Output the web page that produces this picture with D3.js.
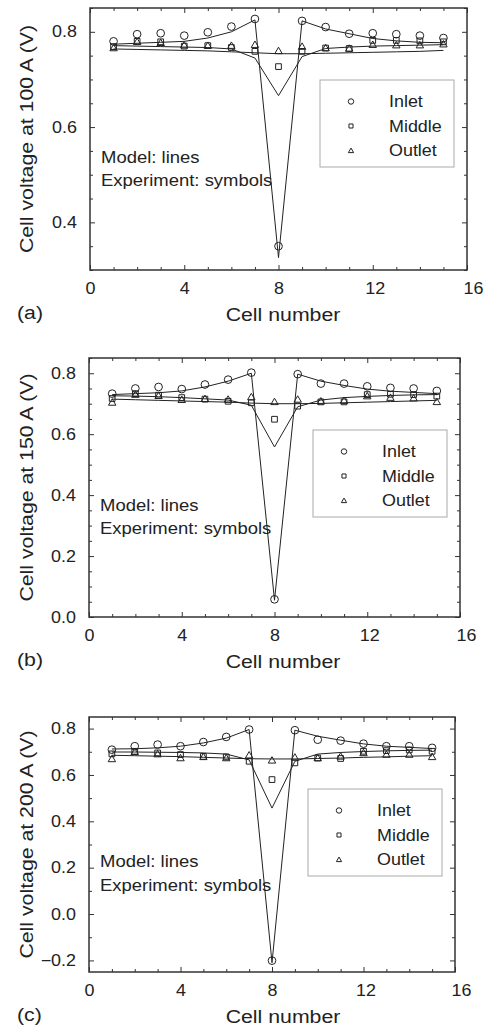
<!DOCTYPE html>
<html>
<head>
<meta charset="utf-8">
<script src="https://cdn.jsdelivr.net/npm/d3@7"></script>
<style>
  body { margin: 0; background: #fff; }
  text { font-family: "Liberation Sans", Arial, Helvetica, sans-serif; fill: #222; }
</style>
</head>
<body>
<div id="chart"></div>
<script>
// cell numbers along the stack
var cells = [1, 2, 3, 4, 5, 6, 7, 8, 9, 10, 11, 12, 13, 14, 15];

// (a) 100 A
var inletExpA    = [0.780, 0.795, 0.797, 0.792, 0.799, 0.811, 0.827, 0.350, 0.823, 0.810, 0.796, 0.797, 0.795, 0.792, 0.787];
var middleExpA   = [0.769, 0.780, 0.779, 0.770, 0.771, 0.767, 0.759, 0.727, 0.759, 0.766, 0.765, 0.782, 0.782, 0.781, 0.779];
var outletExpA   = [0.766, 0.779, 0.777, 0.772, 0.771, 0.771, 0.773, 0.760, 0.769, 0.766, 0.765, 0.773, 0.772, 0.772, 0.774];
var inletModelA  = [0.774, 0.776, 0.778, 0.780, 0.787, 0.800, 0.825, 0.326, 0.823, 0.806, 0.796, 0.786, 0.781, 0.778, 0.777];
var middleModelA = [0.771, 0.770, 0.769, 0.768, 0.767, 0.764, 0.745, 0.666, 0.748, 0.765, 0.768, 0.770, 0.771, 0.772, 0.773];
var outletModelA = [0.764, 0.763, 0.762, 0.761, 0.760, 0.758, 0.756, 0.754, 0.754, 0.755, 0.756, 0.757, 0.758, 0.759, 0.761];

// (b) 150 A
var inletExpB    = [0.733, 0.750, 0.755, 0.748, 0.763, 0.779, 0.802, 0.058, 0.797, 0.766, 0.766, 0.757, 0.752, 0.750, 0.742];
var middleExpB   = [0.717, 0.733, 0.728, 0.720, 0.715, 0.708, 0.703, 0.649, 0.692, 0.706, 0.706, 0.730, 0.731, 0.730, 0.725];
var outletExpB   = [0.704, 0.730, 0.726, 0.713, 0.716, 0.714, 0.722, 0.706, 0.714, 0.708, 0.710, 0.725, 0.720, 0.718, 0.706];
var inletModelB  = [0.730, 0.733, 0.736, 0.742, 0.755, 0.774, 0.800, 0.055, 0.797, 0.774, 0.760, 0.748, 0.741, 0.737, 0.733];
var middleModelB = [0.726, 0.725, 0.723, 0.720, 0.716, 0.712, 0.695, 0.558, 0.690, 0.712, 0.720, 0.724, 0.727, 0.729, 0.730];
var outletModelB = [0.715, 0.713, 0.711, 0.709, 0.707, 0.705, 0.702, 0.700, 0.700, 0.701, 0.703, 0.705, 0.707, 0.709, 0.711];

// (c) 200 A
var inletExpC    = [0.709, 0.724, 0.731, 0.724, 0.742, 0.764, 0.796, -0.201, 0.793, 0.752, 0.748, 0.735, 0.724, 0.724, 0.717];
var middleExpC   = [0.691, 0.702, 0.695, 0.688, 0.680, 0.678, 0.659, 0.580, 0.652, 0.673, 0.671, 0.702, 0.705, 0.708, 0.702];
var outletExpC   = [0.669, 0.700, 0.690, 0.673, 0.678, 0.673, 0.685, 0.663, 0.676, 0.673, 0.680, 0.695, 0.688, 0.688, 0.678];
var inletModelC  = [0.712, 0.713, 0.717, 0.724, 0.738, 0.759, 0.796, -0.210, 0.793, 0.767, 0.750, 0.734, 0.724, 0.719, 0.714];
var middleModelC = [0.699, 0.699, 0.698, 0.697, 0.695, 0.690, 0.665, 0.457, 0.659, 0.690, 0.697, 0.701, 0.704, 0.706, 0.707];
var outletModelC = [0.685, 0.683, 0.681, 0.679, 0.676, 0.673, 0.670, 0.669, 0.669, 0.671, 0.673, 0.676, 0.678, 0.681, 0.683];

var xTickLabels = [0, 4, 8, 12, 16];
var seriesNames = ["Inlet", "Middle", "Outlet"];

// panel layout
var panels = [
  { tag: "(a)", current: "100", left: 90, right: 467, top: 8, bottom: 270,
    yDomain: [0.3, 0.85], yLabels: [0.4, 0.6, 0.8], yMinor: 0.05,
    exp: [inletExpA, middleExpA, outletExpA], model: [inletModelA, middleModelA, outletModelA] },
  { tag: "(b)", current: "150", left: 89, right: 460, top: 358, bottom: 617,
    yDomain: [0, 0.85], yLabels: [0, 0.2, 0.4, 0.6, 0.8], yMinor: 0.05,
    exp: [inletExpB, middleExpB, outletExpB], model: [inletModelB, middleModelB, outletModelB] },
  { tag: "(c)", current: "200", left: 89, right: 455, top: 717, bottom: 972,
    yDomain: [-0.25, 0.85], yLabels: [-0.2, 0, 0.2, 0.4, 0.6, 0.8], yMinor: 0.1,
    exp: [inletExpC, middleExpC, outletExpC], model: [inletModelC, middleModelC, outletModelC] }
];

var SX = 1.12; // glyphs in the original are a bit wider than Arial

var svg = d3.select("#chart")
  .append("svg")
  .attr("width", 488)
  .attr("height", 1028);

function label(g, x, y, str, size, anchor, rot) {
  return g.append("text")
    .attr("transform", "translate(" + x + "," + y + ")" + (rot ? " rotate(" + rot + ")" : "") + " scale(" + SX + ",1)")
    .attr("text-anchor", anchor || "start")
    .style("font-size", size + "px")
    .text(str);
}

// widen axis labels without moving their anchor point
function stretchText(sel, nudge) {
  sel.selectAll(".tick").each(function(d) {
    var t = d3.select(this).select("text");
    var x = (+t.attr("x") || 0) + (nudge ? nudge(d) : 0);
    t.attr("x", 0).attr("transform", "translate(" + x + ",0) scale(" + SX + ",1)");
  });
}

function steps(lo, hi, step) {
  var a = Math.ceil(lo / step - 1e-6), b = Math.floor(hi / step + 1e-6);
  return d3.range(a, b + 1).map(i => +(i * step).toFixed(4));
}

// draw one marker shape
function marker(g, kind, x, y, s) {
  if (kind === 0) {
    g.append("circle").attr("cx", x).attr("cy", y).attr("r", s * 0.62)
      .attr("fill", "none").attr("stroke", "#222").attr("stroke-width", 1);
  } else {
    var sym = kind === 1 ? d3.symbolSquare : d3.symbolTriangle;
    var area = kind === 1 ? s * s * 0.85 : s * s * 0.62;
    g.append("path")
      .attr("transform", "translate(" + x + "," + (kind === 2 ? y + 0.6 : y) + ")")
      .attr("d", d3.symbol().type(sym).size(area)())
      .attr("fill", "none").attr("stroke", "#222").attr("stroke-width", 1);
  }
}

panels.forEach(function(p) {
  var g = svg.append("g");
  var w = p.right - p.left, h = p.bottom - p.top;

  var x = d3.scaleLinear().domain([0, 16]).range([p.left, p.right]);
  var y = d3.scaleLinear().domain(p.yDomain).range([p.bottom, p.top]);

  var xMinor = d3.range(0, 17).filter(d => d % 4 !== 0);
  var yMinor = steps(p.yDomain[0], p.yDomain[1], p.yMinor).filter(v => p.yLabels.every(l => Math.abs(l - v) > 1e-6));

  // bottom axis with labels
  var bx = g.append("g").attr("transform", "translate(0," + p.bottom + ")")
    .call(d3.axisBottom(x).tickValues(xTickLabels).tickSize(-5).tickPadding(13).tickFormat(d3.format("d")));
  g.append("g").attr("transform", "translate(0," + p.bottom + ")")
    .call(d3.axisBottom(x).tickValues(xMinor).tickSize(-3).tickFormat(""));
  // top axis ticks
  g.append("g").attr("transform", "translate(0," + p.top + ")")
    .call(d3.axisTop(x).tickValues(xTickLabels).tickSize(-5).tickFormat(""));
  g.append("g").attr("transform", "translate(0," + p.top + ")")
    .call(d3.axisTop(x).tickValues(xMinor).tickSize(-3).tickFormat(""));

  // left axis with labels
  var ly = g.append("g").attr("transform", "translate(" + p.left + ",0)")
    .call(d3.axisLeft(y).tickValues(p.yLabels).tickSize(-5).tickPadding(13).tickFormat(d3.format(".1f")));
  g.append("g").attr("transform", "translate(" + p.left + ",0)")
    .call(d3.axisLeft(y).tickValues(yMinor).tickSize(-3).tickFormat(""));
  // right axis ticks
  g.append("g").attr("transform", "translate(" + p.right + ",0)")
    .call(d3.axisRight(y).tickValues(p.yLabels).tickSize(-5).tickFormat(""));
  g.append("g").attr("transform", "translate(" + p.right + ",0)")
    .call(d3.axisRight(y).tickValues(yMinor).tickSize(-3).tickFormat(""));

  g.selectAll(".domain").remove();
  g.selectAll(".tick line").attr("stroke", "#333").attr("stroke-width", 1);
  g.selectAll(".tick text").style("font-size", "16px").attr("fill", "#222")
    .style("font-family", "'Liberation Sans', Arial, sans-serif");
  stretchText(bx, d => d === 16 ? 6 : (d === 12 ? 2 : 0));
  stretchText(ly);

  // frame
  g.append("rect")
    .attr("x", p.left).attr("y", p.top).attr("width", w).attr("height", h)
    .attr("fill", "none").attr("stroke", "#333").attr("stroke-width", 1.5);

  // model lines
  var line = d3.line().x((d, i) => x(cells[i])).y(d => y(d));
  p.model.forEach(function(vals) {
    g.append("path").datum(vals)
      .attr("d", line)
      .attr("fill", "none").attr("stroke", "#222").attr("stroke-width", 1);
  });

  // experiment symbols
  p.exp.forEach(function(vals, k) {
    vals.forEach(function(v, i) { marker(g, k, x(cells[i]), y(v), 6.2); });
  });

  // legend
  var lx = p.right - 13 - 134, lyTop = p.top + 72;
  g.append("rect")
    .attr("x", lx).attr("y", lyTop).attr("width", 134).attr("height", 87)
    .attr("fill", "#fff").attr("stroke", "#aaa").attr("stroke-width", 1);
  seriesNames.forEach(function(name, k) {
    var base = lyTop + 27 + k * 24.5;
    marker(g, k, lx + 31, base - 5.5, 4.4);
    label(g, lx + 69, base, name, 16, "start");
  });

  // notes
  var ny = p.top + 0.59 * h;
  label(g, p.left + 11, ny, "Model: lines", 16.5, "start");
  label(g, p.left + 11, ny + 23.5, "Experiment: symbols", 16.5, "start");

  // axis titles
  label(g, 283, p.bottom + 51, "Cell number", 19, "middle");
  label(g, 17, p.bottom + 49, p.tag, 19, "start");
  label(g, 33, (p.top + p.bottom) / 2, "Cell voltage at " + p.current + " A (V)", 19, "middle", -90);
});
</script>
</body>
</html>
